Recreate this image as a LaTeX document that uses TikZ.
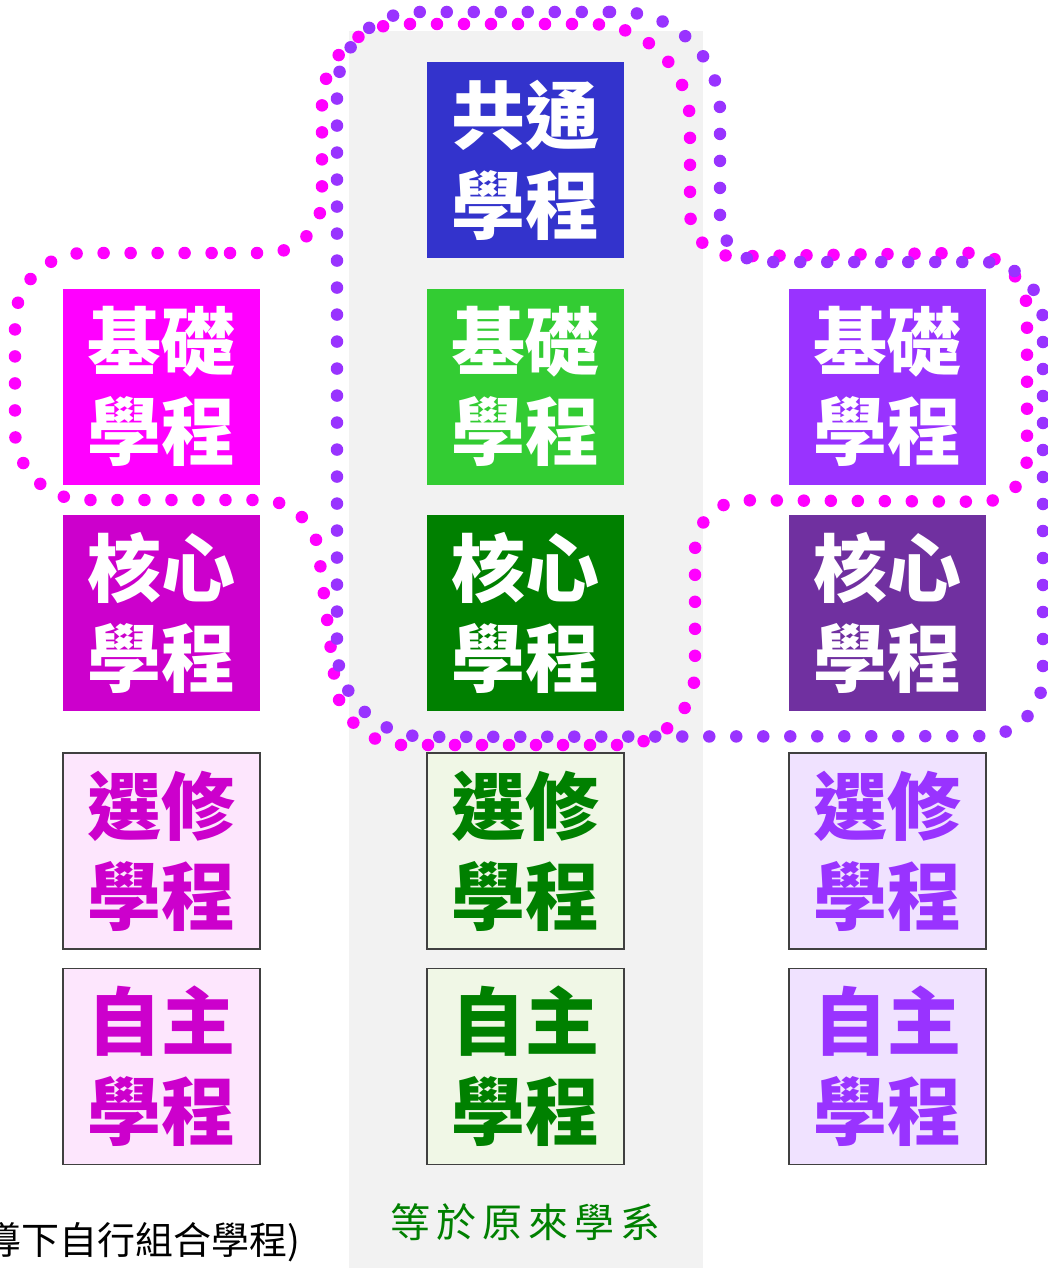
\documentclass[tikz,border=0pt]{standalone}
\usepackage{fontspec}
\newfontfamily\cjk{Noto Sans CJK TC}
\definecolor{cblue}{HTML}{3333CC}
\definecolor{cmag}{HTML}{FF00FF}
\definecolor{cmagd}{HTML}{CC00CC}
\definecolor{cmagl}{HTML}{FDE6FD}
\definecolor{cgrn}{HTML}{33CC33}
\definecolor{cgrnd}{HTML}{008000}
\definecolor{cgrnl}{HTML}{F0F7E6}
\definecolor{cpur}{HTML}{9933FF}
\definecolor{cpurd}{HTML}{7030A0}
\definecolor{cpurl}{HTML}{F0E2FF}
\definecolor{ccol}{HTML}{F2F2F2}
\begin{document}
\begin{tikzpicture}[x=1pt,y=-1pt,
  prog/.style={minimum width=197pt,minimum height=196pt,inner sep=0pt,align=center,
    font=\cjk\bfseries\fontsize{74}{90}\selectfont},
  solidbox/.style={prog,fill=#1,text=white},
  lightbox/.style 2 args={prog,fill=#1,text=#2,draw=black!75,line width=1.3pt},
  dotline/.style={draw=#1,line width=12.5pt,line cap=round,dash pattern=on 0pt off 27pt}]
\useasboundingbox (0,0) rectangle (1047,1268);
\fill[ccol] (349,31) rectangle (703,1268);
% boxes
\node[solidbox=cblue] (gen) at (525.5,160) {共通\\學程};
\node[solidbox=cmag] (lbase) at (161.5,386.5) {基礎\\學程};
\node[solidbox=cgrn] (mbase) at (525.5,386.5) {基礎\\學程};
\node[solidbox=cpur] (rbase) at (887.5,386.5) {基礎\\學程};
\node[solidbox=cmagd] (lcore) at (161.5,613) {核心\\學程};
\node[solidbox=cgrnd] (mcore) at (525.5,613) {核心\\學程};
\node[solidbox=cpurd] (rcore) at (887.5,613) {核心\\學程};
\node[lightbox={cmagl}{cmagd}] (lelec) at (161.5,851) {選修\\學程};
\node[lightbox={cgrnl}{cgrnd}] (melec) at (525.5,851) {選修\\學程};
\node[lightbox={cpurl}{cpur}] (relec) at (887.5,851) {選修\\學程};
\node[lightbox={cmagl}{cmagd}] (lfree) at (161.5,1066.5) {自主\\學程};
\node[lightbox={cgrnl}{cgrnd}] (mfree) at (525.5,1066.5) {自主\\學程};
\node[lightbox={cpurl}{cpur}] (rfree) at (887.5,1066.5) {自主\\學程};
% captions
\node[text=cgrnd,font=\cjk\fontsize{40}{40}\selectfont,inner sep=0pt] (same) at (525,1222)
  {等\hspace{6pt}於\hspace{6pt}原\hspace{6pt}來\hspace{6pt}學\hspace{6pt}系};
\node[anchor=east,font=\cjk\fontsize{38}{38}\selectfont,inner sep=0pt] (self) at (301,1242)
  {導下自行組合學程)};
% dotted outlines
\draw[dotline=cmag] (160,253) [rounded corners=55pt] -- (322,253)
  [rounded corners=80pt] -- (322,24)
  [rounded corners=100pt] -- (690,24)
  [rounded corners=45pt] -- (690,257)
  [rounded corners=60pt] -- (1027,252)
  [rounded corners=45pt] -- (1027,502)
  [rounded corners=50pt] -- (695,500)
  [rounded corners=75pt] -- (695,745)
  [rounded corners=60pt] -- (343,745)
  [rounded corners=50pt] -- (312,500)
  [rounded corners=70pt] -- (15,500)
  [rounded corners=70pt] -- (15,253)
  -- cycle;
\draw[dotline=cpur] (530,12) [rounded corners=100pt] -- (720,12)
  [rounded corners=45pt] -- (720,262)
  [rounded corners=60pt] -- (1043,262)
  [rounded corners=60pt] -- (1043,736)
  [rounded corners=90pt] -- (337,737)
  [rounded corners=80pt] -- (337,12)
  -- cycle;
\end{tikzpicture}
\end{document}
